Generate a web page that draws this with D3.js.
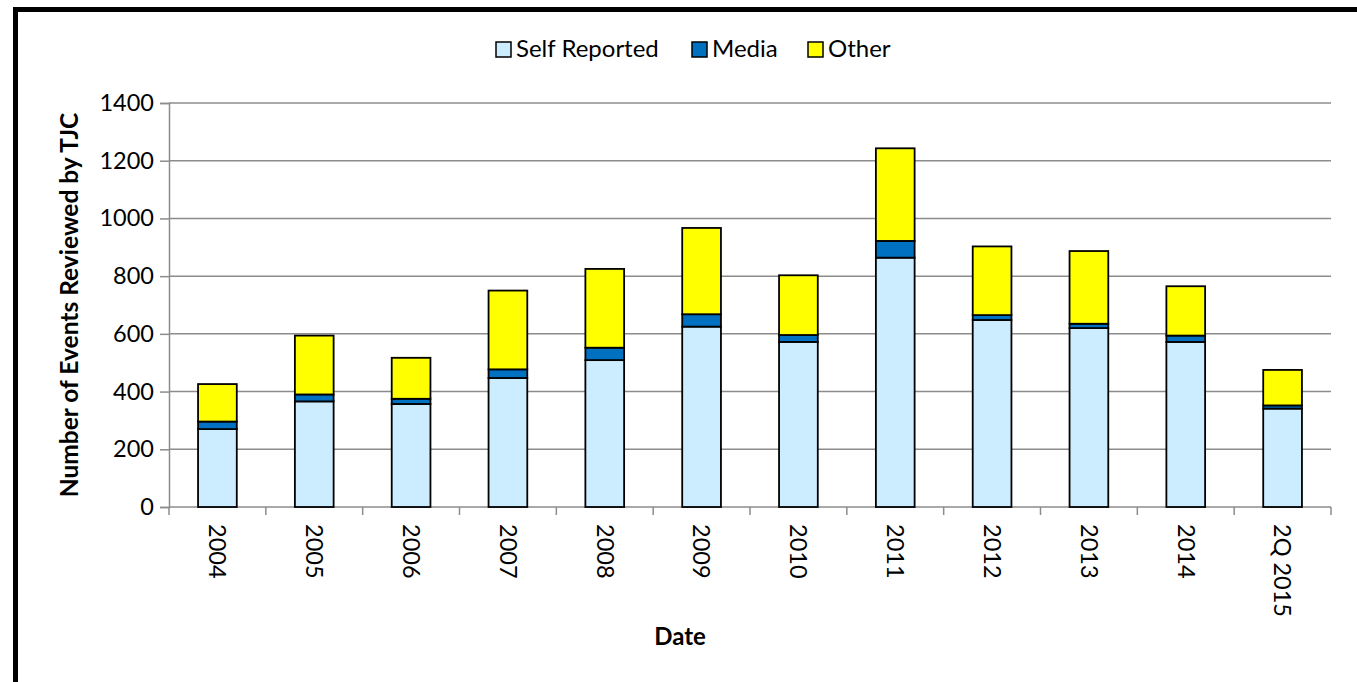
<!DOCTYPE html>
<html><head><meta charset="utf-8">
<script src="https://cdn.jsdelivr.net/npm/d3@7"></script>
<style>body{margin:0;background:#fff}svg{display:block}text{font-family:Lato,"Open Sans",sans-serif}</style>
</head><body><svg id="c" width="1357" height="682"></svg>
<script>
const categories = ["2004","2005","2006","2007","2008","2009","2010","2011","2012","2013","2014","2Q 2015"];
const selfReported = [270,366,357,447,509,625,572,864,648,620,572,341];
const media = [26,24,18,30,43,43,24,58,17,15,22,11];
const other = [130,204,142,273,273,299,207,321,238,252,171,123];
const seriesNames = ["Self Reported","Media","Other"];
const seriesColors = ["#CCECFF","#0070C0","#FFFF00"];
const yTicks = [0,200,400,600,800,1000,1200,1400];

const svg = d3.select("#c");
const m = {l:169, r:1331, t:103, b:507};
const x = d3.scaleBand().domain(categories).range([m.l, m.r]).paddingInner(0.6).paddingOuter(0.3);
const y = d3.scaleLinear().domain([0,1400]).range([m.b, m.t]);

// outer border
svg.append("rect").attr("x",15.5).attr("y",9.5).attr("width",1345).attr("height",700)
  .attr("fill","none").attr("stroke","#000").attr("stroke-width",5);

const grid = "#8c8c8c";
svg.append("g").selectAll("line").data(yTicks.slice(1)).join("line")
  .attr("x1",m.l).attr("x2",m.r).attr("y1",d=>y(d)).attr("y2",d=>y(d))
  .attr("stroke",grid).attr("stroke-width",1.5);

const ya = svg.append("g").attr("transform",`translate(${m.l},0)`)
  .call(d3.axisLeft(y).tickValues(yTicks).tickFormat(d3.format("d")).tickSize(9).tickPadding(6));
ya.select(".domain").attr("stroke",grid).attr("stroke-width",1.5);
ya.selectAll(".tick line").attr("stroke",grid).attr("stroke-width",1.5);
ya.selectAll(".tick text").attr("font-size",23.5).attr("fill","#000").style("font-family","Lato");

const xa = svg.append("g").attr("transform",`translate(0,${m.b})`)
  .call(d3.axisBottom(x).tickSize(0).tickPadding(0));
xa.select(".domain").remove();
const step = x.step();
const bounds = d3.range(categories.length+1).map(i=>m.l + i*step);
xa.selectAll(".bnd").data(bounds).join("line").attr("class","bnd")
  .attr("x1",d=>d).attr("x2",d=>d).attr("y1",0).attr("y2",8).attr("stroke",grid).attr("stroke-width",1.5);
xa.append("line").attr("x1",m.l).attr("x2",m.r).attr("stroke",grid).attr("stroke-width",1.5);
xa.selectAll(".tick text")
  .attr("font-size",23.5).attr("fill","#000").style("font-family","Lato")
  .attr("text-anchor","start").attr("dy","0.35em")
  .attr("transform",`translate(0,17) rotate(90)`).attr("x",0).attr("y",0);

const rows = categories.map((c,i)=>({cat:c, "Self Reported":selfReported[i], "Media":media[i], "Other":other[i]}));
const stack = d3.stack().keys(seriesNames)(rows);
svg.append("g").selectAll("g").data(stack).join("g")
  .attr("fill",(d,i)=>seriesColors[i])
  .selectAll("rect").data(d=>d).join("rect")
  .attr("x",d=>x(d.data.cat)).attr("width",x.bandwidth())
  .attr("y",d=>y(d[1])).attr("height",d=>y(d[0])-y(d[1]))
  .attr("stroke","#000").attr("stroke-width",1.8);

svg.append("text").attr("transform",`translate(78,${(m.t+m.b)/2}) rotate(-90)`)
  .attr("text-anchor","middle").attr("font-size",24.5).attr("font-weight","bold").text("Number of Events Reviewed by TJC");
svg.append("text").attr("x",680).attr("y",645).attr("text-anchor","middle")
  .attr("font-size",24).attr("font-weight","bold").text("Date");

const legX = [496, 692, 808];
const lg = svg.append("g");
seriesNames.forEach((n,i)=>{
  lg.append("rect").attr("x",legX[i]).attr("y",42).attr("width",15).attr("height",15)
    .attr("fill",seriesColors[i]).attr("stroke","#000").attr("stroke-width",1.5);
  lg.append("text").attr("x",legX[i]+20).attr("y",57).attr("font-size",24).attr("fill","#000").text(n);
});
</script></body></html>
